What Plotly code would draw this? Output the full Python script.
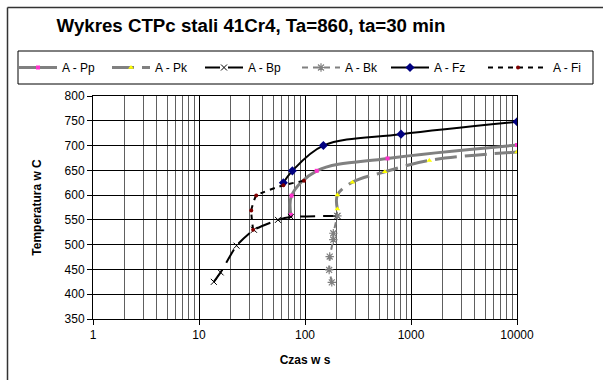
import plotly.graph_objects as go

# ---- data ----
pp_x = [73.6, 74.7, 129, 601, 10000]
pp_y = [560, 599, 649, 674, 701]
pk_x = [202, 202, 280, 566, 1490, 10000]
pk_y = [572, 600, 626, 647, 670, 687]
bp_x = [13.8, 16, 22.6, 33, 55.6, 73.6, 202]
bp_y = [425, 444, 498, 530, 550, 556, 558]
bk_x = [179, 169, 171, 185, 185, 202]
bk_y = [424, 449, 476, 510, 523, 558]
fz_x = [62.5, 76, 149, 805, 10000]
fz_y = [625, 649, 700, 723, 748]
fi_x = [32.4, 31.1, 34.7, 62.5, 98]
fi_y = [530, 569, 599, 620, 629]

x_tickvals = [1, 10, 100, 1000, 10000]
x_ticktext = ["1", "10", "100", "1000", "10000"]
x_minor = [m * 10 ** k for k in range(4) for m in range(2, 10)]

FONT = "Arial, Liberation Sans, sans-serif"
GREY = "#808080"

fig = go.Figure()
fig.add_trace(go.Scatter(x=pp_x, y=pp_y, name="A - Pp", mode="lines+markers", legend="legend",
                         line=dict(color=GREY, width=3, shape="spline", smoothing=1),
                         marker=dict(symbol="square", size=4, color="#ff33cc")))
fig.add_trace(go.Scatter(x=pk_x, y=pk_y, name="A - Pk", mode="lines+markers", legend="legend",
                         line=dict(color=GREY, width=3, dash="22px,8px", shape="spline", smoothing=1),
                         marker=dict(symbol="triangle-up", size=5, color="#ffff00")))
fig.add_trace(go.Scatter(x=bp_x, y=bp_y, name="A - Bp", mode="lines+markers", legend="legend",
                         line=dict(color="black", width=2, dash="15px,8px", shape="spline", smoothing=0.5),
                         marker=dict(symbol="x-thin-open", size=6, line=dict(color="#555555", width=1))))
fig.add_trace(go.Scatter(x=bk_x, y=bk_y, name="A - Bk", mode="lines+markers", legend="legend2",
                         line=dict(color=GREY, width=2, dash="6px,5px"),
                         marker=dict(symbol="asterisk-open", size=7, line=dict(color=GREY, width=1.2))))
fig.add_trace(go.Scatter(x=fz_x, y=fz_y, name="A - Fz", mode="lines+markers", legend="legend2",
                         line=dict(color="black", width=2, shape="spline", smoothing=1),
                         marker=dict(symbol="diamond", size=7, color="#000080")))
fig.add_trace(go.Scatter(x=fi_x, y=fi_y, name="A - Fi", mode="lines+markers", legend="legend3",
                         line=dict(color="black", width=2, dash="5px,5px", shape="spline", smoothing=0.4),
                         marker=dict(symbol="circle", size=4, color="#800000")))

# plot area geometry (px)
L, R, T, B = 93, 91, 96, 61
W, H = 608 - L - R, 380 - T - B

def px_x(v):
    return (v - L) / W

def px_y(v):
    return (380 - B - v) / H

def leg(xpx, itemw, entryw):
    return dict(orientation="h", x=px_x(xpx), xanchor="left", y=px_y(67.5), yanchor="middle",
                font=dict(size=12, family=FONT), bgcolor="rgba(0,0,0,0)", borderwidth=0,
                entrywidth=entryw, entrywidthmode="pixels", itemwidth=itemw)

fig.update_layout(
    width=608, height=380,
    margin=dict(l=L, r=R, t=T, b=B, autoexpand=False),
    paper_bgcolor="white", plot_bgcolor="white",
    font=dict(family=FONT, size=12, color="black"),
    title=dict(text="<b>Wykres CTPc stali 41Cr4, Ta=860, ta=30 min</b>",
               x=251 / 608, xanchor="center", y=1 - 25 / 380, yanchor="middle",
               font=dict(size=18.7, family=FONT, color="black")),
    showlegend=True,
    legend=leg(14, 38, 40),
    legend2=leg(297, 38, 36),
    legend3=leg(483, 60, 40),
    xaxis=dict(type="log", range=[0, 4], tickvals=x_tickvals, ticktext=x_ticktext,
               ticks="outside", ticklen=5, tickcolor="black", automargin=False,
               showgrid=True, gridcolor="black", gridwidth=1,
               minor=dict(tickvals=x_minor, showgrid=True, gridcolor="#606060", gridwidth=1, ticks=""),
               showline=True, linecolor="black", linewidth=1, mirror=True,
               title=dict(text="<b>Czas w s</b>", font=dict(size=12), standoff=14),
               tickfont=dict(size=12)),
    yaxis=dict(range=[350, 800], dtick=50, tick0=350, automargin=False,
               ticks="outside", ticklen=5, tickcolor="black",
               showgrid=True, gridcolor="black", gridwidth=1,
               showline=True, linecolor="black", linewidth=1, mirror=True, zeroline=False,
               title=dict(text="<b>Temperatura w C</b>", font=dict(size=12), standoff=20),
               tickfont=dict(size=12)),
    shapes=[
        dict(type="line", xref="paper", yref="paper",
             x0=px_x(7.5), x1=px_x(7.5), y0=px_y(392), y1=px_y(7.5),
             line=dict(color="#333333", width=1.5), layer="below"),
        dict(type="line", xref="paper", yref="paper",
             x0=px_x(7.5), x1=px_x(603), y0=px_y(7.5), y1=px_y(7.5),
             line=dict(color="#333333", width=1.5), layer="below"),
        dict(type="rect", xref="paper", yref="paper",
             x0=px_x(18), x1=px_x(593), y0=px_y(84), y1=px_y(51),
             line=dict(color="black", width=1), layer="below"),
    ],
)

fig.write_html("out.html", config={"displayModeBar": False},
               post_script="document.body.style.margin='0';document.body.style.overflow='hidden';")
